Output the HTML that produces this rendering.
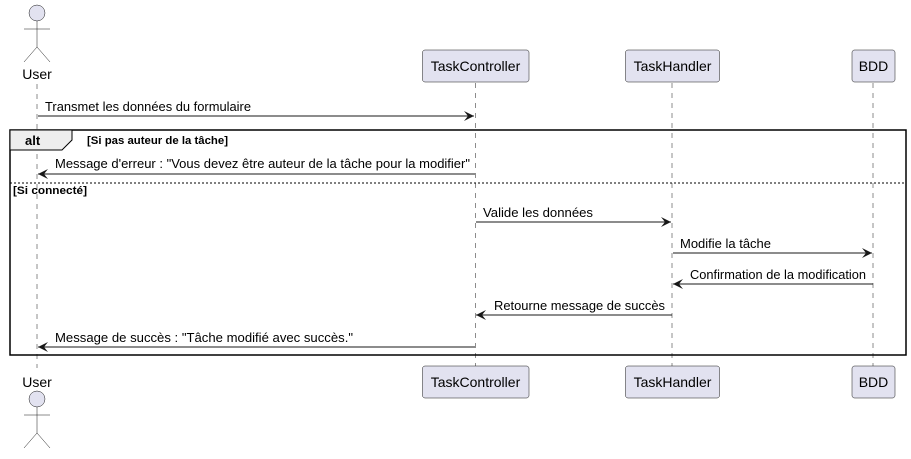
<!DOCTYPE html>
<html><head><style>body{margin:0;background:#fff}</style></head><body>
<svg width="911" height="454" xmlns="http://www.w3.org/2000/svg" font-family="Liberation Sans, sans-serif">
<defs><marker id="a" markerWidth="10" markerHeight="10" refX="10" refY="5" orient="auto" markerUnits="userSpaceOnUse"><path d="M0,0 L10,5 L0,10 L4,5 Z" fill="#181818"/></marker></defs>
<g stroke="#181818" stroke-width="0.5" stroke-dasharray="5,5">
<line x1="37" y1="84" x2="37" y2="368"/><line x1="475.5" y1="83" x2="475.5" y2="366"/>
<line x1="672" y1="83" x2="672" y2="366"/><line x1="873" y1="83" x2="873" y2="366"/></g>
<g fill="#E2E2F0" stroke="#181818" stroke-width="0.5">
<circle cx="37" cy="13" r="8"/><circle cx="37" cy="399" r="8"/>
<rect x="422.5" y="50" width="106.5" height="32" rx="2.5"/><rect x="625.5" y="50" width="94" height="32" rx="2.5"/><rect x="852" y="50" width="43" height="32" rx="2.5"/>
<rect x="422.5" y="366" width="106.5" height="32" rx="2.5"/><rect x="625.5" y="366" width="94" height="32" rx="2.5"/><rect x="852" y="366" width="43" height="32" rx="2.5"/></g>
<g stroke="#181818" stroke-width="0.5" fill="none">
<path d="M37,21V47M24,29H50M24,62L37,47L50,62"/><path d="M37,407V433M24,415H50M24,448L37,433L50,448"/></g>
<g font-size="14" fill="#000" text-anchor="middle">
<text x="37" y="79">User</text><text x="37" y="387">User</text>
<text x="475.5" y="71">TaskController</text><text x="672.5" y="71">TaskHandler</text><text x="873.5" y="71">BDD</text>
<text x="475.5" y="387">TaskController</text><text x="672.5" y="387">TaskHandler</text><text x="873.5" y="387">BDD</text></g>
<rect x="10" y="130" width="896" height="225" fill="none" stroke="#000" stroke-width="1.5"/>
<path d="M10,130H72V140L62,150H10Z" fill="#EEEEEE" stroke="#000" stroke-width="1"/>
<line x1="10" y1="183" x2="906" y2="183" stroke="#000" stroke-width="1" stroke-dasharray="2,2"/>
<g font-size="11" font-weight="bold"><text x="25" y="145" font-size="13">alt</text>
<text x="87" y="144" textLength="141" lengthAdjust="spacingAndGlyphs">[Si pas auteur de la tâche]</text><text x="13" y="194" textLength="74" lengthAdjust="spacingAndGlyphs">[Si connecté]</text></g>
<g stroke="#181818" stroke-width="1" marker-end="url(#a)">
<line x1="38" y1="116" x2="474" y2="116"/><line x1="475" y1="174" x2="38" y2="174"/>
<line x1="476" y1="222" x2="671" y2="222"/><line x1="673" y1="253" x2="872" y2="253"/>
<line x1="873" y1="284" x2="673" y2="284"/><line x1="672" y1="315" x2="476" y2="315"/>
<line x1="475" y1="347" x2="38" y2="347"/></g>
<g font-size="13" fill="#000">
<text x="45" y="111" textLength="206" lengthAdjust="spacingAndGlyphs">Transmet les données du formulaire</text>
<text x="55" y="168" textLength="415" lengthAdjust="spacingAndGlyphs">Message d'erreur : "Vous devez être auteur de la tâche pour la modifier"</text>
<text x="483" y="217" textLength="110" lengthAdjust="spacingAndGlyphs">Valide les données</text>
<text x="680" y="248" textLength="91" lengthAdjust="spacingAndGlyphs">Modifie la tâche</text>
<text x="690" y="279" textLength="176" lengthAdjust="spacingAndGlyphs">Confirmation de la modification</text>
<text x="494" y="310" textLength="171" lengthAdjust="spacingAndGlyphs">Retourne message de succès</text>
<text x="55" y="342" textLength="298" lengthAdjust="spacingAndGlyphs">Message de succès : "Tâche modifié avec succès."</text></g>
</svg></body></html>
